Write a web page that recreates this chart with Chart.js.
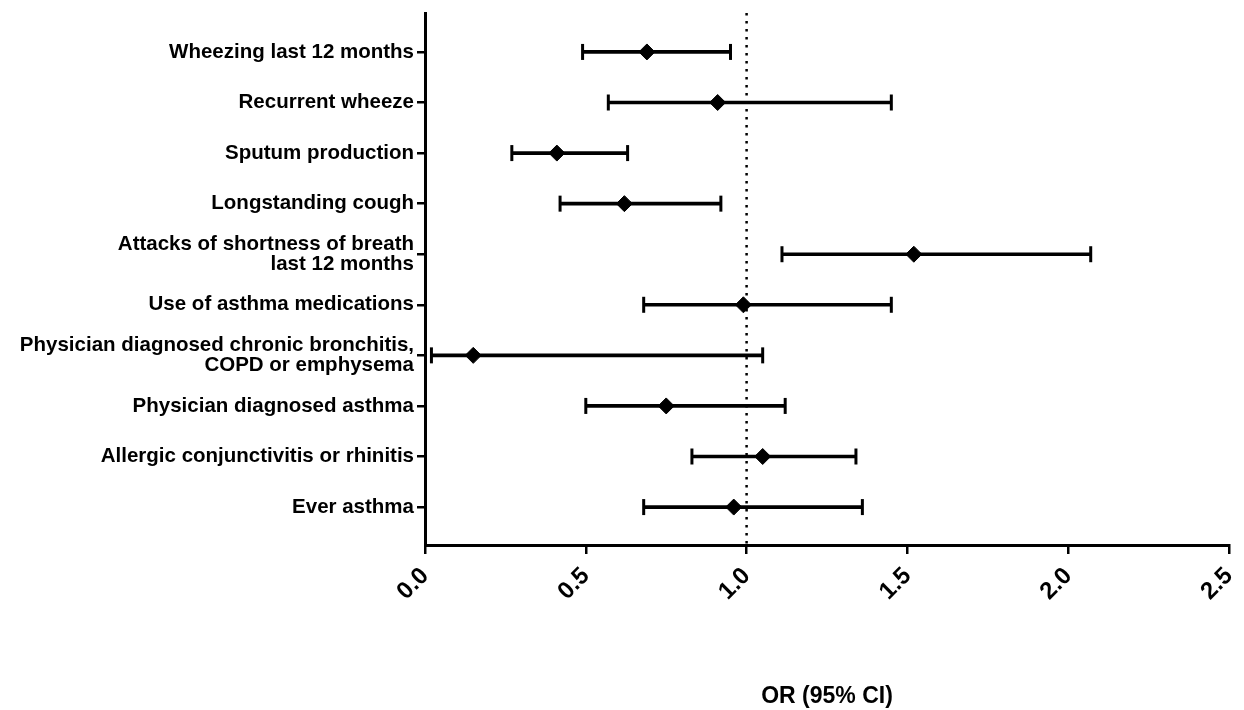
<!DOCTYPE html>
<html>
<head>
<meta charset="utf-8">
<script src="https://cdn.jsdelivr.net/npm/chart.js@4.4.1/dist/chart.umd.min.js"></script>
<style>
  html, body { margin: 0; padding: 0; background: #ffffff; }
  #wrap { width: 1244px; height: 710px; position: relative; }
</style>
</head>
<body>
<div id="wrap"><canvas id="chart"></canvas></div>
<script>
// ---- data ----
const categories = [
  'Wheezing last 12 months',
  'Recurrent wheeze',
  'Sputum production',
  'Longstanding cough',
  ['Attacks of shortness of breath', 'last 12 months'],
  'Use of asthma medications',
  ['Physician diagnosed chronic bronchitis,', 'COPD or emphysema'],
  'Physician diagnosed asthma',
  'Allergic conjunctivitis or rhinitis',
  'Ever asthma'
];
const oddsRatio = [0.69, 0.91, 0.41, 0.62, 1.52, 0.99, 0.15, 0.75, 1.05, 0.96];
const ciLower   = [0.49, 0.57, 0.27, 0.42, 1.11, 0.68, 0.02, 0.50, 0.83, 0.68];
const ciUpper   = [0.95, 1.45, 0.63, 0.92, 2.07, 1.45, 1.05, 1.12, 1.34, 1.36];
const xTickLabels = ['0.0', '0.5', '1.0', '1.5', '2.0', '2.5'];
const xTickValues = [0, 0.5, 1.0, 1.5, 2.0, 2.5];
const referenceOR = 1.0;
const axisTitle = 'OR (95% CI)';

// y-axis bounds (row index space)
const yMin = 0.23, yMax = 10.75;

const FONT = "'Liberation Sans', Arial, Helvetica, sans-serif";

const rows = categories.map((_, i) => i + 1);

const whiskers = rows.map((r, i) => ({ y: r, x: [ciLower[i], ciUpper[i]] }));
const caps = [];
rows.forEach((r, i) => { caps.push({ x: ciLower[i], y: r }); caps.push({ x: ciUpper[i], y: r }); });
const points = rows.map((r, i) => ({ x: oddsRatio[i], y: r }));
const refLine = [{ x: referenceOR, y: yMin }, { x: referenceOR, y: yMax }];

new Chart(document.getElementById('chart'), {
  type: 'bar',
  data: {
    datasets: [
      {
        type: 'line',
        data: refLine,
        borderColor: '#000',
        borderWidth: 2.5,
        borderDash: [2.5, 5.5],
        pointRadius: 0,
        fill: false,
        order: 4
      },
      {
        type: 'bar',
        indexAxis: 'y',
        data: whiskers,
        backgroundColor: '#000',
        borderWidth: 0,
        barThickness: 3,
        order: 3
      },
      {
        type: 'scatter',
        data: caps,
        pointStyle: 'line',
        rotation: 90,
        radius: 8,
        borderWidth: 3,
        borderColor: '#000',
        backgroundColor: '#000',
        clip: false,
        order: 2
      },
      {
        type: 'scatter',
        data: points,
        pointStyle: 'rectRot',
        radius: 8,
        borderWidth: 1,
        borderColor: '#000',
        backgroundColor: '#000',
        clip: false,
        order: 1
      }
    ]
  },
  options: {
    responsive: true,
    maintainAspectRatio: false,
    animation: false,
    layout: { padding: { top: 13, right: 15, bottom: 0, left: 0 } },
    plugins: { legend: { display: false }, tooltip: { enabled: false } },
    scales: {
      x: {
        type: 'linear',
        position: 'bottom',
        offset: false,
        min: 0,
        max: 2.5,
        afterBuildTicks: (scale) => { scale.ticks = xTickValues.map(v => ({ value: v })); },
        afterFit: (scale) => { scale.height = 165; scale.paddingRight = 0; scale.paddingLeft = 0; },
        grid: { offset: false, drawOnChartArea: false, color: '#000', lineWidth: 2.5, tickLength: 9 },
        border: { display: true, color: '#000', width: 3 },
        ticks: {
          color: '#000',
          font: { family: FONT, size: 24, weight: 'bold' },
          minRotation: 45,
          maxRotation: 45,
          padding: 8,
          callback: (v) => xTickLabels[xTickValues.indexOf(v)]
        },
        title: {
          display: true,
          text: axisTitle,
          color: '#000',
          font: { family: FONT, size: 23, weight: 'bold' },
          padding: { top: 0, bottom: 0 }
        }
      },
      y: {
        type: 'linear',
        position: 'left',
        offset: false,
        reverse: true,
        min: yMin,
        max: yMax,
        afterBuildTicks: (scale) => { scale.ticks = rows.map(v => ({ value: v })); },
        afterFit: (scale) => { scale.width = 425; scale.paddingTop = 0; scale.paddingBottom = 0; },
        grid: { offset: false, drawOnChartArea: false, color: '#000', lineWidth: 2.5, tickLength: 8 },
        border: { display: true, color: '#000', width: 3 },
        ticks: {
          color: '#000',
          font: { family: FONT, size: 20.5, weight: 'bold', lineHeight: 1.0 },
          padding: 3,
          autoSkip: false,
          callback: (v) => categories[v - 1]
        }
      }
    }
  }
});
</script>
</body>
</html>
